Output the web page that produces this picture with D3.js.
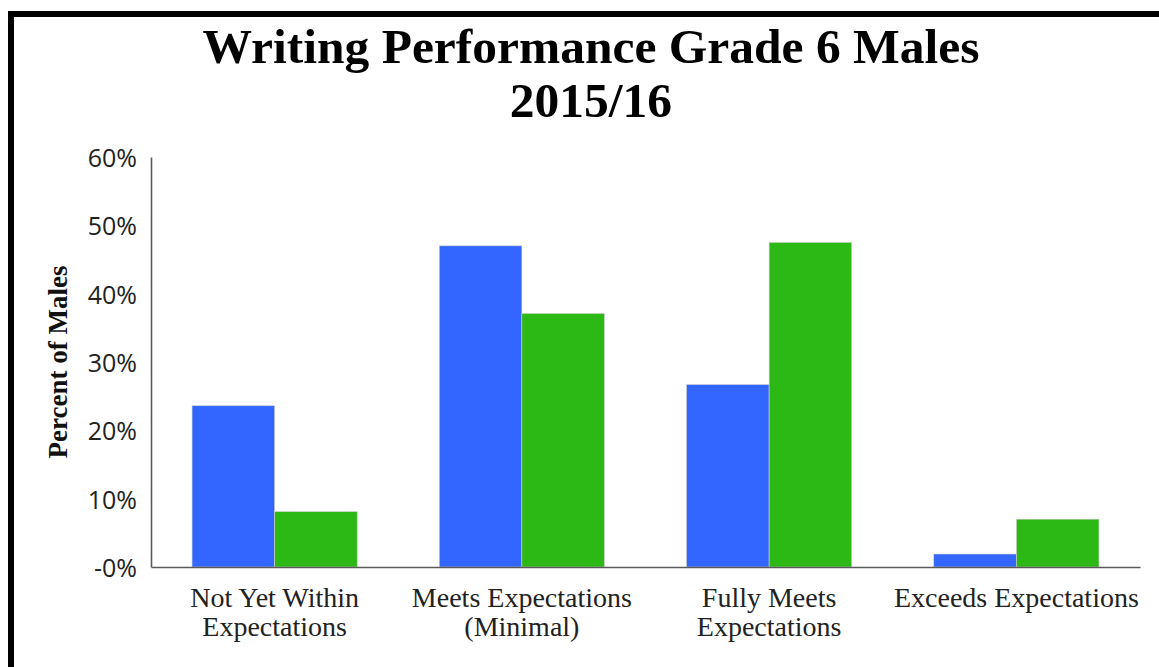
<!DOCTYPE html>
<html>
<head>
<meta charset="utf-8">
<script src="https://cdn.jsdelivr.net/npm/d3@7"></script>
<style>
  body { margin: 0; background: #fff; }
  .tick line { display: none; }
  .domain { stroke: #5a5a5a; stroke-width: 1.6; }
</style>
</head>
<body>
<script>
// chart values
var categories = [
  ["Not Yet Within", "Expectations"],
  ["Meets Expectations", "(Minimal)"],
  ["Fully Meets", "Expectations"],
  ["Exceeds Expectations"]
];
var seriesNames = ["A", "B"];
var blueValues = [23.6, 47.0, 26.7, 1.9];
var greenValues = [8.1, 37.1, 47.5, 7.0];
var yTicks = [0, 10, 20, 30, 40, 50, 60];
var yTickLabels = ["-0%", "10%", "20%", "30%", "40%", "50%", "60%"];
var colors = ["#3366ff", "#2db915"];

var svgWidth = 1159, svgHeight = 667;
var margin = {top: 157, right: 19, bottom: 100, left: 151};
var width = svgWidth - margin.left - margin.right;
var height = svgHeight - margin.top - margin.bottom;

var svg = d3.select("body").append("svg")
  .attr("width", svgWidth)
  .attr("height", svgHeight);

// frame (only top and left edges show)
svg.append("rect")
  .attr("x", 11).attr("y", 14)
  .attr("width", 1200).attr("height", 700)
  .attr("fill", "none")
  .attr("stroke", "#000")
  .attr("stroke-width", 6);

var title = svg.append("text")
  .attr("text-anchor", "middle")
  .attr("font-family", "Liberation Serif")
  .attr("font-weight", "bold")
  .attr("font-size", 49.5)
  .attr("fill", "#000");
title.append("tspan").attr("x", 591).attr("y", 63).text("Writing Performance Grade 6 Males");
title.append("tspan").attr("x", 591).attr("y", 117).text("2015/16");

var chart = svg.append("g")
  .attr("transform", "translate(" + margin.left + "," + margin.top + ")");

var x0 = d3.scaleBand()
  .domain(d3.range(categories.length))
  .range([0, width])
  .paddingInner(0.332)
  .paddingOuter(0.166);

var x1 = d3.scaleBand()
  .domain(seriesNames)
  .range([0, x0.bandwidth()]);

var y = d3.scaleLinear().domain([0, 60]).range([height, 0]);

var rows = categories.map(function(c, i) {
  return [blueValues[i], greenValues[i]];
});

var groups = chart.selectAll(".group")
  .data(rows)
  .enter().append("g")
  .attr("class", "group")
  .attr("transform", function(d, i) { return "translate(" + x0(i) + ",0)"; });

groups.selectAll("rect")
  .data(function(d) { return d; })
  .enter().append("rect")
  .attr("x", function(d, j) { return x1(seriesNames[j]); })
  .attr("y", function(d) { return y(d); })
  .attr("width", x1.bandwidth())
  .attr("height", function(d) { return height - y(d); })
  .attr("fill", function(d, j) { return colors[j]; })
  .attr("stroke", "#cfcfcf")
  .attr("stroke-width", 0.6);

// y axis
var leftAxis = d3.axisLeft(y)
  .tickValues(yTicks)
  .tickSize(0)
  .tickPadding(14)
  .tickFormat(function(d, i) { return yTickLabels[i]; });

chart.append("g")
  .call(leftAxis)
  .call(function(g) {
    g.selectAll("text")
      .attr("font-family", "Open Sans")
      .attr("font-size", 25)
      .attr("dy", "0.38em")
      .attr("fill", "#222");
  });

// x axis
var bottomAxis = d3.axisBottom(x0).tickSize(0).tickFormat("");
chart.append("g")
  .attr("transform", "translate(0," + height + ")")
  .call(bottomAxis);

chart.selectAll(".cat")
  .data(categories)
  .enter().append("text")
  .attr("class", "cat")
  .attr("text-anchor", "middle")
  .attr("font-family", "Liberation Serif")
  .attr("font-size", 28)
  .attr("fill", "#222")
  .each(function(lines, i) {
    var t = d3.select(this);
    lines.forEach(function(line, k) {
      t.append("tspan")
        .attr("x", x0(i) + x0.bandwidth() / 2)
        .attr("y", height + 40 + k * 29)
        .text(line);
    });
  });

// y axis label
chart.append("text")
  .attr("transform", "rotate(-90)")
  .attr("x", -height / 2)
  .attr("y", -margin.left + 67)
  .attr("text-anchor", "middle")
  .attr("font-family", "Liberation Serif")
  .attr("font-weight", "bold")
  .attr("font-size", 27)
  .attr("fill", "#111")
  .text("Percent of Males");
</script>
</body>
</html>
